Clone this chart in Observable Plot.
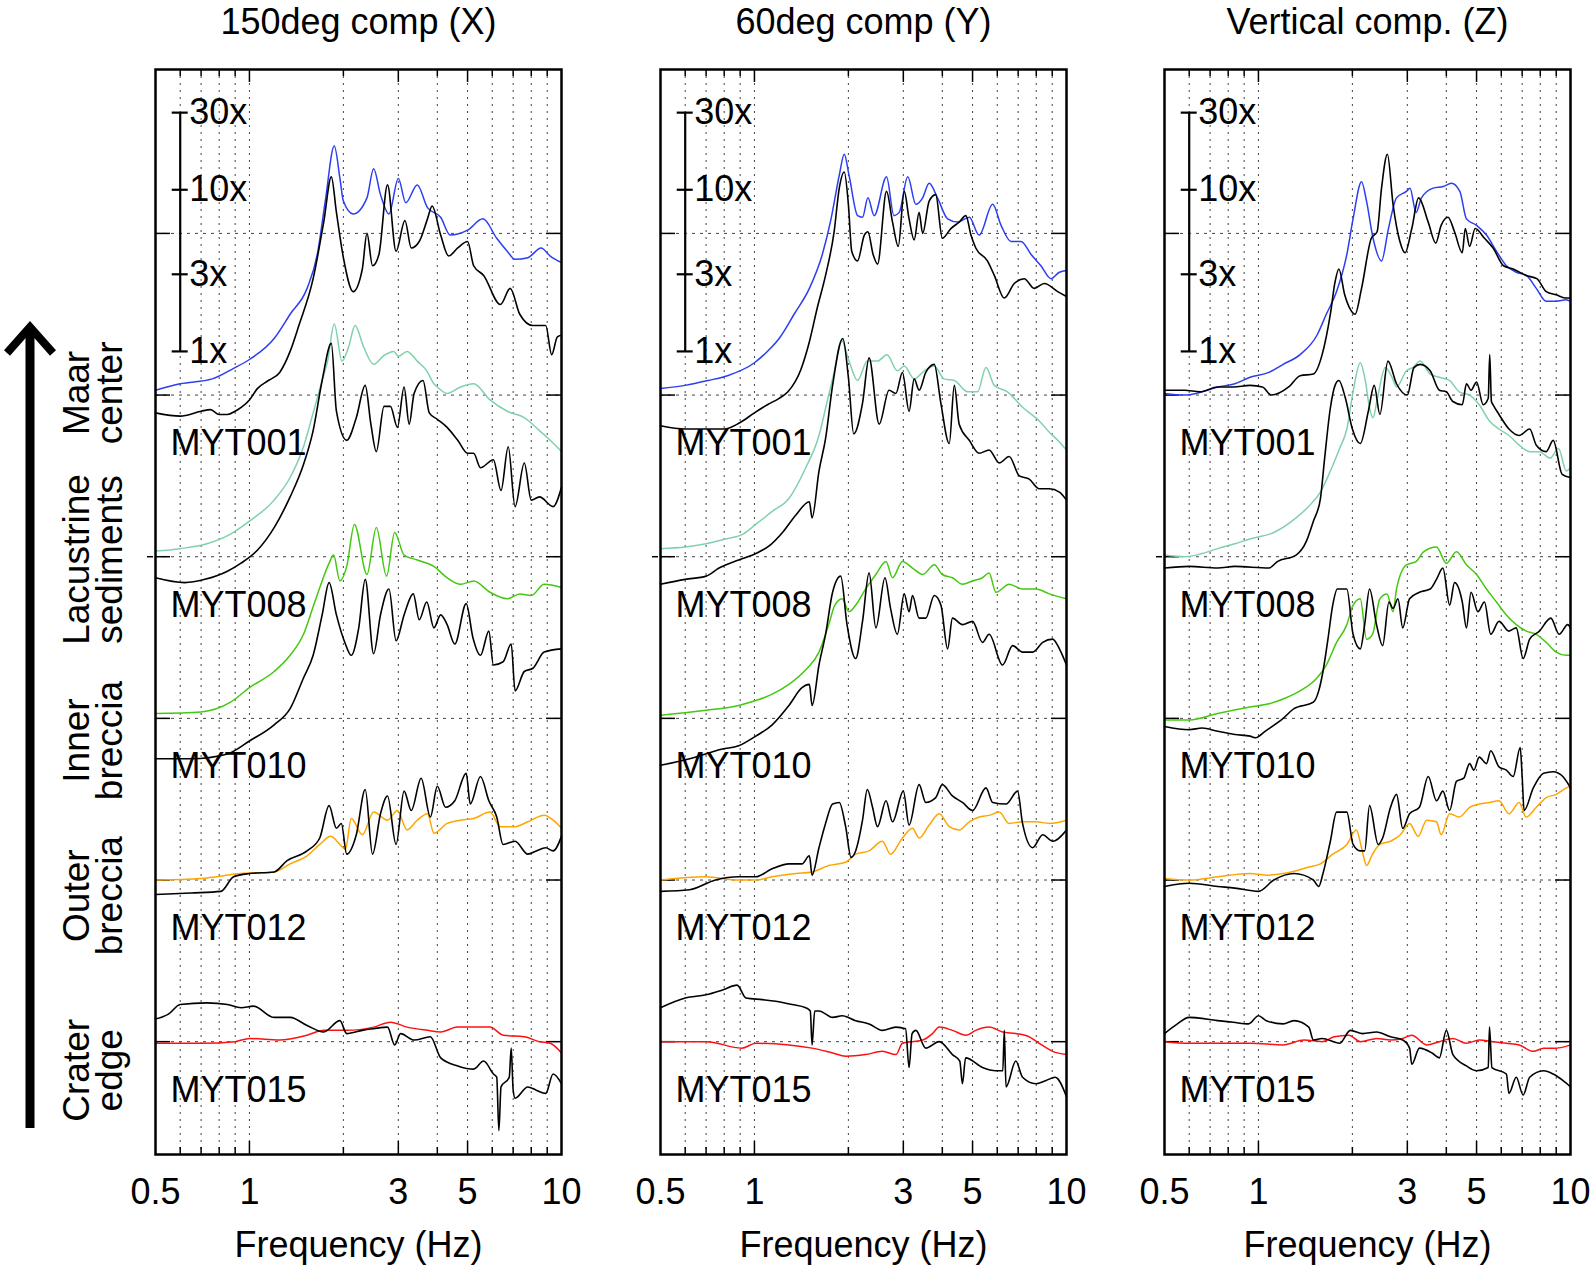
<!DOCTYPE html>
<html><head><meta charset="utf-8">
<script src="https://cdn.jsdelivr.net/npm/d3@7"></script>
<script src="https://cdn.jsdelivr.net/npm/@observablehq/plot@0.6"></script>
<style>
html,body{margin:0;padding:0;background:#fff;}
#root{position:relative;width:1594px;height:1268px;overflow:hidden;background:#fff;font-family:"Liberation Sans",Arial,Helvetica,sans-serif;}
.panel{position:absolute;top:0;}
svg{overflow:visible;}
</style></head><body><div id="root"></div>
<script>
// ---------------- data ----------------
const panelTitles = ["150deg comp (X)", "60deg comp (Y)", "Vertical comp. (Z)"];
const stations = ["MYT001", "MYT008", "MYT010", "MYT012", "MYT015"];
const stationOffsets = [4, 3, 2, 1, 0];           // decades of vertical shift
const stationColors = ["#2b3ff0", "#80d1ab", "#44c810", "#ffa500", "#ff1010"];
const zoneLabels = [["Maar", "center"], ["Lacustrine", "sediments"], ["Inner", "breccia"], ["Outer", "breccia"], ["Crater", "edge"]];
const freqTickLabels = [0.5, 1, 3, 5, 10];
const majorFreqs = [1, 3, 5];
const minorFreqs = [0.6, 0.7, 0.8, 0.9, 2, 4, 6, 7, 8, 9];
const gridLevels = [0, 1, 2, 3, 4, 5];
const scaleFactors = [1, 3, 10, 30];

// values: [frequency Hz, log10 amplitude ratio relative to station baseline]
const X_MYT001_col = [[0.5,0.03],[0.6,0.07],[0.76,0.10],[0.89,0.165],[1.0,0.22],[1.2,0.35],[1.35,0.5],[1.53,0.66],[1.65,0.87],[1.75,1.2],[1.87,1.54],[1.95,1.34],[2.0,1.2],[2.15,1.12],[2.38,1.22],[2.5,1.40],[2.63,1.24],[2.8,1.12],[3.0,1.34],[3.17,1.19],[3.45,1.30],[3.72,1.16],[4.1,1.10],[4.4,0.99],[5.0,1.02],[5.6,1.09],[6.2,0.97],[6.7,0.89],[7.1,0.84],[7.8,0.85],[8.6,0.91],[9.2,0.86],[10,0.82]];
const X_MYT001_blk = [[0.5,-0.11],[0.6,-0.13],[0.7,-0.10],[0.75,-0.09],[0.8,-0.12],[0.85,-0.12],[0.9,-0.10],[0.95,-0.07],[1.0,-0.03],[1.06,0.04],[1.15,0.09],[1.25,0.14],[1.35,0.27],[1.44,0.43],[1.6,0.72],[1.73,1.07],[1.83,1.35],[1.9,1.13],[2.0,0.85],[2.15,0.64],[2.3,0.78],[2.38,1.0],[2.48,0.80],[2.6,0.87],[2.77,1.30],[2.95,0.89],[3.15,1.08],[3.3,0.91],[3.5,0.95],[3.72,1.09],[3.85,1.17],[4.1,0.99],[4.35,0.86],[4.65,0.91],[5.0,0.95],[5.23,0.80],[5.63,0.74],[6.37,0.56],[6.85,0.66],[7.35,0.50],[8.1,0.43],[8.9,0.43],[9.3,0.25],[9.7,0.36],[10,0.37]];
const X_MYT008_col = [[0.5,0.035],[0.6,0.05],[0.73,0.08],[0.87,0.14],[1.0,0.22],[1.2,0.35],[1.35,0.49],[1.49,0.68],[1.6,0.89],[1.71,1.09],[1.78,1.21],[1.87,1.44],[1.98,1.21],[2.08,1.30],[2.18,1.43],[2.32,1.30],[2.5,1.19],[2.7,1.245],[2.9,1.27],[3.0,1.24],[3.2,1.27],[3.45,1.21],[3.7,1.15],[3.9,1.07],[4.0,1.05],[4.3,1.01],[4.75,1.05],[5.23,1.07],[5.9,0.97],[6.7,0.90],[7.6,0.86],[8.5,0.78],[9.2,0.72],[10,0.65]];
const X_MYT008_blk = [[0.5,-0.13],[0.62,-0.16],[0.72,-0.14],[0.85,-0.09],[0.94,-0.04],[1.06,0.04],[1.2,0.18],[1.35,0.37],[1.49,0.57],[1.6,0.78],[1.71,1.09],[1.83,1.32],[1.9,0.90],[2.05,0.72],[2.2,0.86],[2.35,1.06],[2.45,0.82],[2.55,0.65],[2.7,0.93],[2.83,0.93],[2.98,0.80],[3.13,1.05],[3.25,0.82],[3.37,1.01],[3.6,1.09],[3.77,0.89],[4.0,0.85],[4.3,0.80],[4.65,0.72],[5.0,0.64],[5.23,0.64],[5.5,0.55],[6.05,0.60],[6.4,0.41],[6.75,0.68],[7.1,0.31],[7.6,0.58],[8.0,0.35],[8.5,0.37],[9.4,0.31],[10,0.43]];
const X_MYT010_col = [[0.5,0.03],[0.7,0.04],[0.87,0.10],[1.0,0.19],[1.2,0.29],[1.35,0.39],[1.49,0.52],[1.6,0.69],[1.71,0.85],[1.8,0.96],[1.86,1.01],[1.95,0.85],[2.05,0.94],[2.17,1.20],[2.38,0.89],[2.55,1.18],[2.75,0.88],[2.92,1.15],[3.13,1.01],[3.45,0.98],[3.9,0.94],[4.3,0.87],[4.75,0.83],[5.23,0.85],[5.9,0.78],[6.7,0.74],[7.35,0.77],[8.0,0.76],[8.8,0.83],[10,0.81]];
const X_MYT010_blk = [[0.5,-0.25],[0.65,-0.25],[0.85,-0.22],[1.0,-0.14],[1.2,-0.04],[1.35,0.06],[1.49,0.25],[1.6,0.39],[1.71,0.64],[1.8,0.84],[1.9,0.64],[2.03,0.46],[2.12,0.39],[2.24,0.56],[2.35,0.86],[2.5,0.40],[2.63,0.64],[2.8,0.80],[2.95,0.48],[3.13,0.64],[3.35,0.77],[3.5,0.61],[3.7,0.72],[3.9,0.56],[4.1,0.64],[4.3,0.58],[4.55,0.46],[4.95,0.71],[5.2,0.50],[5.5,0.39],[5.85,0.54],[6.05,0.33],[6.5,0.35],[6.9,0.46],[7.1,0.17],[7.6,0.29],[8.1,0.31],[8.8,0.41],[10,0.43]];
const X_MYT012_col = [[0.5,0.0],[0.7,0.01],[0.94,0.04],[1.2,0.05],[1.35,0.10],[1.53,0.15],[1.68,0.22],[1.82,0.27],[1.95,0.22],[2.03,0.19],[2.12,0.38],[2.3,0.28],[2.5,0.42],[2.77,0.37],[2.98,0.43],[3.2,0.31],[3.45,0.37],[3.72,0.41],[3.9,0.29],[4.3,0.35],[4.75,0.37],[5.23,0.38],[5.9,0.42],[6.37,0.33],[7.1,0.33],[7.8,0.36],[8.8,0.40],[9.4,0.37],[10,0.32]];
const X_MYT012_blk = [[0.5,-0.09],[0.65,-0.08],[0.81,-0.07],[0.89,0.02],[1.0,0.04],[1.2,0.05],[1.32,0.12],[1.53,0.18],[1.68,0.26],[1.8,0.46],[1.9,0.32],[1.97,0.35],[2.05,0.16],[2.2,0.28],[2.35,0.56],[2.48,0.16],[2.63,0.41],[2.77,0.52],[2.95,0.22],[3.13,0.55],[3.3,0.43],[3.55,0.63],[3.8,0.39],[4.0,0.58],[4.25,0.45],[4.55,0.49],[4.95,0.66],[5.1,0.47],[5.5,0.64],[5.85,0.49],[6.2,0.39],[6.5,0.22],[7.1,0.24],[7.8,0.16],[8.3,0.18],[8.9,0.20],[9.4,0.18],[10,0.27]];
const X_MYT015_col = [[0.5,-0.01],[0.7,-0.01],[0.9,0.0],[1.0,0.02],[1.25,0.01],[1.53,0.04],[1.73,0.07],[2.05,0.07],[2.5,0.09],[2.83,0.12],[3.2,0.09],[3.72,0.07],[4.1,0.06],[4.65,0.09],[5.23,0.09],[5.9,0.09],[6.5,0.04],[7.6,0.03],[8.5,0.0],[9.2,-0.01],[10,-0.07]];
const X_MYT015_blk = [[0.5,0.14],[0.55,0.17],[0.6,0.23],[0.73,0.24],[0.85,0.23],[0.94,0.21],[1.03,0.22],[1.2,0.15],[1.35,0.15],[1.53,0.10],[1.73,0.06],[1.95,0.13],[2.05,0.05],[2.3,0.07],[2.5,0.08],[2.77,0.09],[2.92,-0.02],[3.05,0.05],[3.37,0.01],[3.8,0.03],[4.1,-0.10],[4.65,-0.15],[5.23,-0.17],[5.63,-0.12],[6.05,-0.20],[6.2,-0.22],[6.3,-0.55],[6.4,-0.28],[6.8,-0.22],[6.9,-0.04],[7.0,-0.30],[7.1,-0.35],[7.8,-0.28],[8.3,-0.30],[8.9,-0.32],[9.4,-0.20],[10,-0.26]];

const Y_MYT001_col = [[0.5,0.04],[0.6,0.06],[0.71,0.09],[0.82,0.12],[1.0,0.20],[1.1,0.27],[1.2,0.35],[1.34,0.50],[1.5,0.66],[1.65,0.87],[1.76,1.09],[1.87,1.36],[1.94,1.49],[2.01,1.36],[2.14,1.11],[2.22,1.10],[2.31,1.22],[2.42,1.11],[2.65,1.35],[2.8,1.11],[2.91,1.13],[3.1,1.35],[3.29,1.18],[3.46,1.22],[3.63,1.31],[3.86,1.22],[4.16,1.09],[4.48,1.07],[4.88,1.10],[5.25,0.99],[5.8,1.18],[6.17,1.05],[6.64,0.95],[7.15,0.95],[7.7,0.87],[8.28,0.80],[8.92,0.72],[9.49,0.76],[10,0.77]];
const Y_MYT001_blk = [[0.5,-0.19],[0.6,-0.21],[0.8,-0.21],[0.9,-0.17],[1.0,-0.11],[1.1,-0.06],[1.2,-0.02],[1.28,0.02],[1.41,0.16],[1.5,0.33],[1.59,0.54],[1.69,0.74],[1.8,1.01],[1.87,1.28],[1.94,1.38],[2.0,1.18],[2.05,0.89],[2.14,0.83],[2.25,0.99],[2.31,1.01],[2.4,0.87],[2.48,0.81],[2.65,1.26],[2.77,1.07],[2.89,0.92],[3.02,1.26],[3.13,1.09],[3.25,0.96],[3.37,1.13],[3.46,1.0],[3.63,1.20],[3.81,1.24],[4.0,0.97],[4.26,1.03],[4.53,1.07],[4.76,1.11],[4.94,0.99],[5.12,0.91],[5.58,0.83],[5.87,0.74],[6.32,0.60],[6.8,0.69],[7.32,0.72],[7.88,0.66],[8.49,0.69],[9.37,0.64],[10,0.61]];
const Y_MYT008_col = [[0.5,0.05],[0.6,0.06],[0.7,0.08],[0.81,0.11],[0.92,0.14],[1.01,0.20],[1.14,0.28],[1.29,0.36],[1.46,0.55],[1.61,0.75],[1.71,0.96],[1.8,1.14],[1.9,1.34],[2.01,1.21],[2.14,1.09],[2.3,1.21],[2.48,1.21],[2.66,1.25],[2.87,1.15],[3.02,1.18],[3.25,1.10],[3.5,1.15],[3.77,1.18],[4.05,1.10],[4.37,1.09],[4.82,1.02],[5.19,1.02],[5.52,1.17],[5.87,1.06],[6.47,1.02],[7.23,0.925],[8.18,0.84],[8.81,0.77],[9.49,0.71],[10,0.66]];
const Y_MYT008_blk = [[0.5,-0.17],[0.6,-0.14],[0.7,-0.12],[0.77,-0.07],[0.89,-0.02],[1.01,0.02],[1.12,0.07],[1.23,0.15],[1.36,0.26],[1.5,0.34],[1.53,0.24],[1.61,0.53],[1.69,0.73],[1.78,1.06],[1.92,1.35],[2.0,1.11],[2.08,0.76],[2.22,0.95],[2.33,1.23],[2.51,0.82],[2.7,1.03],[2.84,1.01],[2.98,1.14],[3.13,0.90],[3.25,1.10],[3.37,1.03],[3.54,1.14],[3.77,1.19],[3.95,0.96],[4.21,0.70],[4.37,1.06],[4.53,0.82],[4.88,0.72],[5.25,0.64],[5.65,0.66],[6.09,0.58],[6.55,0.62],[7.06,0.50],[7.6,0.48],[8.18,0.42],[8.81,0.42],[9.49,0.40],[10,0.35]];
const Y_MYT010_col = [[0.5,0.02],[0.7,0.05],[0.89,0.08],[1.01,0.11],[1.14,0.15],[1.29,0.21],[1.46,0.30],[1.61,0.41],[1.73,0.58],[1.81,0.70],[1.91,0.74],[2.01,0.66],[2.11,0.70],[2.27,0.80],[2.45,0.89],[2.64,0.97],[2.77,0.87],[2.98,0.97],[3.21,0.93],[3.46,0.89],[3.77,0.95],[4.0,0.89],[4.31,0.87],[4.64,0.83],[5.0,0.85],[5.38,0.87],[5.65,0.90],[5.94,0.78],[6.55,0.83],[7.23,0.80],[7.98,0.80],[8.81,0.77],[10,0.74]];
const Y_MYT010_blk = [[0.5,-0.29],[0.62,-0.25],[0.79,-0.19],[0.89,-0.17],[1.01,-0.11],[1.14,-0.04],[1.29,0.08],[1.42,0.19],[1.5,0.21],[1.53,0.08],[1.61,0.33],[1.69,0.52],[1.78,0.78],[1.89,0.88],[1.98,0.58],[2.11,0.37],[2.22,0.60],[2.33,0.90],[2.45,0.56],[2.62,0.87],[2.73,0.68],[2.87,0.52],[3.02,0.77],[3.13,0.66],[3.21,0.76],[3.37,0.62],[3.54,0.62],[3.77,0.76],[3.96,0.70],[4.16,0.43],[4.31,0.62],[4.64,0.58],[5.0,0.60],[5.38,0.47],[5.65,0.52],[6.24,0.33],[6.72,0.45],[7.23,0.41],[7.79,0.41],[8.39,0.47],[9.03,0.49],[9.49,0.43],[10,0.33]];
const Y_MYT012_col = [[0.5,0.0],[0.7,0.02],[0.89,0.0],[1.01,0.0],[1.14,0.02],[1.36,0.04],[1.53,0.05],[1.73,0.09],[1.96,0.11],[2.11,0.16],[2.33,0.18],[2.57,0.24],[2.73,0.16],[2.98,0.26],[3.21,0.32],[3.37,0.26],[3.63,0.34],[3.91,0.41],[4.21,0.33],[4.53,0.31],[4.88,0.36],[5.25,0.39],[5.65,0.40],[6.09,0.42],[6.55,0.35],[7.23,0.36],[7.98,0.36],[8.81,0.35],[10,0.37]];
const Y_MYT012_blk = [[0.5,-0.07],[0.62,-0.06],[0.75,0.0],[0.89,0.02],[1.01,0.02],[1.14,0.07],[1.29,0.10],[1.42,0.10],[1.5,0.15],[1.53,0.03],[1.61,0.20],[1.69,0.35],[1.78,0.47],[1.87,0.48],[1.96,0.33],[2.04,0.14],[2.11,0.18],[2.22,0.37],[2.3,0.56],[2.39,0.45],[2.48,0.33],[2.64,0.49],[2.77,0.36],[3.0,0.55],[3.13,0.34],[3.37,0.59],[3.54,0.48],[3.81,0.51],[4.0,0.59],[4.31,0.52],[4.64,0.48],[5.0,0.43],[5.52,0.57],[5.8,0.48],[6.4,0.47],[6.97,0.55],[7.23,0.35],[7.79,0.20],[8.39,0.28],[9.03,0.24],[10,0.31]];
const Y_MYT015_col = [[0.5,0.0],[0.7,0.0],[0.91,-0.04],[1.01,-0.01],[1.29,-0.02],[1.53,-0.04],[1.78,-0.07],[1.96,-0.09],[2.27,-0.08],[2.57,-0.06],[2.84,-0.08],[2.98,-0.01],[3.21,0.0],[3.46,0.01],[3.72,0.05],[3.91,0.09],[4.31,0.07],[4.76,0.04],[5.12,0.07],[5.65,0.09],[6.24,0.06],[6.88,0.05],[7.6,0.03],[8.18,-0.01],[9.03,-0.06],[10,-0.08]];
const Y_MYT015_blk = [[0.5,0.21],[0.6,0.27],[0.7,0.29],[0.79,0.32],[0.88,0.35],[0.94,0.27],[1.06,0.26],[1.17,0.25],[1.32,0.23],[1.46,0.21],[1.51,0.19],[1.53,-0.02],[1.56,0.19],[1.61,0.19],[1.78,0.15],[1.91,0.16],[2.11,0.13],[2.33,0.11],[2.57,0.07],[2.84,0.09],[3.05,0.08],[3.13,-0.16],[3.2,0.05],[3.29,0.07],[3.54,-0.04],[3.91,0.0],[4.31,-0.08],[4.55,-0.12],[4.64,-0.26],[4.75,-0.10],[5.38,-0.16],[5.94,-0.18],[6.25,-0.18],[6.32,0.07],[6.4,-0.28],[6.88,-0.12],[7.23,-0.22],[7.98,-0.26],[8.6,-0.24],[9.2,-0.22],[10,-0.34]];

const Z_MYT001_col = [[0.5,0.01],[0.58,0.0],[0.66,0.02],[0.74,0.05],[0.84,0.07],[0.94,0.11],[1.08,0.14],[1.2,0.19],[1.36,0.25],[1.54,0.37],[1.65,0.50],[1.78,0.64],[1.92,0.87],[2.01,1.09],[2.14,1.32],[2.22,1.20],[2.33,0.97],[2.48,0.83],[2.61,1.03],[2.77,1.22],[2.98,1.26],[3.06,1.28],[3.2,1.13],[3.33,1.22],[3.63,1.28],[3.91,1.29],[4.15,1.31],[4.42,1.26],[4.64,1.09],[5.0,1.05],[5.38,0.99],[5.79,0.89],[6.23,0.80],[6.7,0.76],[7.22,0.74],[7.77,0.66],[8.36,0.58],[9.0,0.58],[9.68,0.59],[10,0.58]];
const Z_MYT001_blk = [[0.5,0.03],[0.58,0.03],[0.65,0.02],[0.74,0.05],[0.83,0.05],[0.94,0.06],[1.03,0.05],[1.1,0.0],[1.25,0.05],[1.36,0.12],[1.5,0.13],[1.6,0.25],[1.7,0.50],[1.76,0.70],[1.81,0.78],[1.89,0.62],[1.97,0.53],[2.04,0.50],[2.14,0.66],[2.3,0.97],[2.4,1.01],[2.48,1.28],[2.59,1.49],[2.7,1.18],[2.84,0.95],[2.95,0.88],[3.1,1.03],[3.26,1.22],[3.5,1.07],[3.7,0.94],[3.85,1.05],[4.05,1.10],[4.25,1.01],[4.5,0.88],[4.6,1.03],[4.75,0.92],[4.95,1.03],[5.3,0.97],[5.65,0.91],[6.1,0.80],[6.55,0.78],[7.2,0.74],[7.8,0.72],[8.36,0.64],[9.0,0.62],[9.7,0.60],[10,0.60]];
const Z_MYT008_col = [[0.5,0.01],[0.58,0.0],[0.66,0.02],[0.74,0.05],[0.84,0.08],[0.94,0.11],[1.12,0.15],[1.32,0.24],[1.48,0.33],[1.58,0.40],[1.7,0.53],[1.82,0.67],[1.92,0.79],[2.01,1.02],[2.12,1.20],[2.2,1.09],[2.27,0.92],[2.33,0.86],[2.4,0.97],[2.55,1.17],[2.68,1.11],[2.77,1.05],[2.98,1.15],[3.12,1.17],[3.3,1.21],[3.55,1.13],[3.8,1.11],[4.1,1.09],[4.4,1.02],[4.75,1.0],[5.1,0.94],[5.5,0.84],[5.9,0.79],[6.35,0.75],[6.85,0.69],[7.4,0.65],[7.95,0.65],[8.6,0.61],[9.15,0.67],[9.7,0.53],[10,0.55]];
const Z_MYT008_blk = [[0.5,-0.07],[0.6,-0.06],[0.74,-0.07],[0.84,-0.06],[1.08,-0.07],[1.15,-0.03],[1.32,0.01],[1.42,0.09],[1.5,0.22],[1.58,0.36],[1.63,0.61],[1.7,0.92],[1.76,1.06],[1.81,1.09],[1.9,0.98],[2.0,0.79],[2.12,0.70],[2.25,0.90],[2.35,1.06],[2.45,0.88],[2.6,1.21],[2.77,1.07],[3.0,1.0],[3.15,1.17],[3.3,1.19],[3.55,1.15],[3.8,1.03],[4.0,1.02],[4.2,0.96],[4.5,0.94],[4.64,1.07],[4.8,1.03],[5.0,1.08],[5.25,0.94],[5.45,0.98],[5.51,1.25],[5.58,0.96],[5.65,0.94],[5.9,0.88],[6.35,0.79],[6.85,0.75],[7.4,0.79],[7.77,0.69],[8.36,0.65],[8.8,0.72],[9.4,0.51],[10,0.49]];
const Z_MYT010_col = [[0.5,-0.01],[0.6,-0.01],[0.74,0.03],[0.94,0.07],[1.08,0.09],[1.2,0.12],[1.36,0.17],[1.54,0.25],[1.65,0.33],[1.78,0.47],[1.92,0.58],[2.01,0.70],[2.12,0.74],[2.22,0.49],[2.32,0.52],[2.45,0.74],[2.58,0.77],[2.7,0.66],[2.77,0.80],[2.98,0.95],[3.2,0.97],[3.38,1.03],[3.72,1.06],[4.0,0.96],[4.31,1.03],[4.64,0.95],[5.0,0.89],[5.38,0.80],[5.79,0.72],[6.23,0.64],[6.7,0.58],[7.22,0.54],[7.77,0.52],[8.36,0.47],[9.0,0.41],[9.68,0.39],[10,0.39]];
const Z_MYT010_blk = [[0.5,-0.05],[0.6,-0.07],[0.66,-0.06],[0.74,-0.08],[0.84,-0.10],[0.94,-0.11],[0.98,-0.12],[1.05,-0.08],[1.2,0.0],[1.3,0.06],[1.5,0.10],[1.56,0.17],[1.61,0.29],[1.67,0.49],[1.73,0.70],[1.79,0.80],[1.92,0.80],[2.01,0.52],[2.12,0.43],[2.19,0.58],[2.27,0.80],[2.39,0.58],[2.5,0.45],[2.62,0.72],[2.7,0.68],[2.8,0.74],[2.9,0.56],[3.05,0.74],[3.28,0.78],[3.55,0.80],[3.72,0.86],[3.9,0.93],[4.1,0.70],[4.25,0.84],[4.5,0.72],[4.64,0.56],[4.8,0.78],[5.05,0.66],[5.3,0.72],[5.55,0.52],[5.9,0.60],[6.35,0.54],[6.7,0.56],[7.05,0.37],[7.4,0.49],[7.95,0.54],[8.65,0.62],[9.2,0.52],[9.8,0.58],[10,0.56]];
const Z_MYT012_col = [[0.5,0.01],[0.6,0.0],[0.74,0.02],[0.94,0.04],[1.06,0.03],[1.2,0.04],[1.45,0.08],[1.58,0.10],[1.73,0.16],[1.92,0.22],[2.06,0.31],[2.14,0.20],[2.22,0.09],[2.32,0.16],[2.45,0.22],[2.65,0.24],[2.85,0.28],[3.05,0.35],[3.25,0.27],[3.46,0.37],[3.72,0.36],[3.85,0.28],[4.1,0.41],[4.4,0.39],[4.75,0.45],[5.1,0.47],[5.5,0.48],[5.9,0.49],[6.35,0.41],[6.85,0.48],[7.2,0.39],[7.77,0.45],[8.36,0.51],[9.0,0.53],[9.7,0.57],[10,0.58]];
const Z_MYT012_blk = [[0.5,-0.04],[0.6,-0.02],[0.74,-0.04],[0.84,-0.05],[1.0,-0.07],[1.12,0.0],[1.3,0.04],[1.5,0.0],[1.56,-0.04],[1.61,0.04],[1.7,0.24],[1.78,0.42],[1.92,0.42],[2.01,0.22],[2.12,0.18],[2.19,0.18],[2.27,0.46],[2.42,0.22],[2.5,0.26],[2.65,0.45],[2.77,0.53],[2.9,0.32],[3.05,0.41],[3.28,0.45],[3.5,0.64],[3.72,0.49],[3.9,0.55],[4.1,0.43],[4.31,0.61],[4.55,0.63],[4.75,0.72],[4.9,0.68],[5.1,0.76],[5.38,0.72],[5.55,0.80],[5.9,0.70],[6.23,0.68],[6.55,0.64],[6.9,0.82],[7.0,0.64],[7.1,0.43],[7.6,0.57],[8.2,0.66],[8.8,0.67],[9.45,0.64],[10,0.57]];
const Z_MYT015_col = [[0.5,0.0],[0.6,-0.01],[0.74,-0.01],[0.94,-0.01],[1.2,-0.02],[1.4,0.01],[1.6,0.0],[1.75,0.03],[1.95,0.04],[2.12,0.0],[2.4,0.02],[2.65,0.01],[2.9,0.02],[3.1,0.04],[3.46,-0.02],[3.8,0.0],[4.2,0.02],[4.64,-0.01],[5.1,0.01],[5.65,0.0],[6.23,-0.01],[6.85,-0.02],[7.6,-0.06],[8.2,-0.04],[9.0,-0.04],[10,-0.02]];
const Z_MYT015_blk = [[0.5,0.05],[0.55,0.11],[0.6,0.15],[0.74,0.13],[0.83,0.12],[0.93,0.11],[1.0,0.16],[1.06,0.13],[1.2,0.11],[1.3,0.13],[1.45,0.09],[1.5,0.01],[1.6,0.02],[1.82,-0.01],[1.97,0.07],[2.16,0.05],[2.39,0.06],[2.65,0.03],[2.9,0.01],[3.05,-0.04],[3.1,-0.14],[3.28,-0.04],[3.6,-0.07],[3.8,-0.10],[4.0,0.07],[4.2,-0.08],[4.64,-0.15],[5.0,-0.18],[5.45,-0.16],[5.5,0.09],[5.6,-0.16],[6.23,-0.20],[6.35,-0.32],[6.7,-0.22],[7.05,-0.33],[7.4,-0.22],[8.2,-0.18],[8.8,-0.20],[9.45,-0.24],[10,-0.28]];

// ---------------- layout ----------------
const W = 1594, H = 1268;
const frameTop = 69, frameBottom = 1154, frameWidth = 406;
const panelLefts = [155, 660, 1164];
const yDomain = [-0.698, 6.014];
const pxPerDecade = (frameBottom - frameTop) / (yDomain[1] - yDomain[0]);
const FONT = "'Liberation Sans', Arial, Helvetica, sans-serif";
const FS = 36;
const PAD = 22;
const scaleBarFreq = 0.6, scaleBarBase = 4.27;

const pxX = (px) => Math.pow(20, px / frameWidth); // multiplicative factor for px along log x
const pxY = (px) => px / pxPerDecade;

function makePanel(title, sets) {
  const marks = [];
  const [yLo, yHi] = yDomain;
  // grid
  marks.push(Plot.ruleX([...minorFreqs, ...majorFreqs], {stroke: "#444", strokeWidth: 1, strokeDasharray: "2,5"}));
  marks.push(Plot.ruleY(gridLevels, {stroke: "#444", strokeWidth: 1, strokeDasharray: "3,5"}));
  // axis ticks inside frame
  for (const [vals, len] of [[majorFreqs, 13], [minorFreqs, 7]]) {
    marks.push(Plot.ruleX(vals, {y1: yLo, y2: yLo + pxY(len), stroke: "black", strokeWidth: 1.5}));
    marks.push(Plot.ruleX(vals, {y1: yHi, y2: yHi - pxY(len), stroke: "black", strokeWidth: 1.5}));
  }
  marks.push(Plot.ruleY(gridLevels, {x1: 0.5, x2: 0.5 * pxX(15), stroke: "black", strokeWidth: 1.5}));
  marks.push(Plot.ruleY(gridLevels, {x1: 10 / pxX(15), x2: 10, stroke: "black", strokeWidth: 1.5}));
  marks.push(Plot.ruleY([3], {x1: 0.5 / pxX(8), x2: 0.5 / pxX(2), stroke: "black", strokeWidth: 1.5}));
  // curves
  sets.forEach(([col, blk], i) => {
    const off = stationOffsets[i];
    marks.push(Plot.line(col, {x: d => d[0], y: d => d[1] + off, stroke: stationColors[i], strokeWidth: 1.5, curve: "monotone-x"}));
    marks.push(Plot.line(blk, {x: d => d[0], y: d => d[1] + off, stroke: "black", strokeWidth: 1.6, curve: "monotone-x"}));
  });
  // amplitude scale bar
  marks.push(Plot.ruleX([scaleBarFreq], {y1: scaleBarBase, y2: scaleBarBase + Math.log10(30), stroke: "black", strokeWidth: 2.2}));
  marks.push(Plot.ruleY(scaleFactors, {y: d => scaleBarBase + Math.log10(d), x1: scaleBarFreq / pxX(8), x2: scaleBarFreq * pxX(8), stroke: "black", strokeWidth: 2.2}));
  marks.push(Plot.text(scaleFactors, {x: scaleBarFreq, y: d => scaleBarBase + Math.log10(d), text: d => d + "x", textAnchor: "start", lineAnchor: "middle", dx: 9, fontSize: FS, fill: "black"}));
  // station labels
  marks.push(Plot.text(stations, {x: 0.5 * pxX(15), y: (d, i) => stationOffsets[i] - 0.30, text: d => d, textAnchor: "start", lineAnchor: "middle", fontSize: FS, fill: "black"}));
  // frame
  marks.push(Plot.frame({stroke: "black", strokeWidth: 2.5}));
  // tick labels + axis label + title
  marks.push(Plot.text(freqTickLabels, {x: d => d, frameAnchor: "bottom", lineAnchor: "middle", dy: 38, text: d => String(d), fontSize: FS, fill: "black"}));
  marks.push(Plot.text(["Frequency (Hz)"], {frameAnchor: "bottom", lineAnchor: "middle", dy: 91, text: d => d, fontSize: FS, fill: "black"}));
  marks.push(Plot.text([title], {frameAnchor: "top", lineAnchor: "middle", dy: -47.5, text: d => d, fontSize: FS, fill: "black"}));

  return Plot.plot({
    width: frameWidth + 2 * PAD,
    height: H,
    marginLeft: PAD, marginRight: PAD, marginTop: frameTop, marginBottom: H - frameBottom,
    x: {type: "log", domain: [0.5, 10], axis: null},
    y: {domain: yDomain, axis: null},
    style: {fontFamily: FONT, background: "transparent", overflow: "visible"},
    marks
  });
}

const root = document.getElementById("root");
const panelSets = [
  [[X_MYT001_col, X_MYT001_blk], [X_MYT008_col, X_MYT008_blk], [X_MYT010_col, X_MYT010_blk], [X_MYT012_col, X_MYT012_blk], [X_MYT015_col, X_MYT015_blk]],
  [[Y_MYT001_col, Y_MYT001_blk], [Y_MYT008_col, Y_MYT008_blk], [Y_MYT010_col, Y_MYT010_blk], [Y_MYT012_col, Y_MYT012_blk], [Y_MYT015_col, Y_MYT015_blk]],
  [[Z_MYT001_col, Z_MYT001_blk], [Z_MYT008_col, Z_MYT008_blk], [Z_MYT010_col, Z_MYT010_blk], [Z_MYT012_col, Z_MYT012_blk], [Z_MYT015_col, Z_MYT015_blk]]
];

// left side: arrow and zone labels
const ns = "http://www.w3.org/2000/svg";
const side = document.createElementNS(ns, "svg");
side.setAttribute("width", 150); side.setAttribute("height", H);
side.setAttribute("class", "panel"); side.style.left = "0px";
const ySc = d3.scaleLinear().domain(yDomain).range([frameBottom, frameTop]);
const arrowX = 30, arrowBottom = 1128, arrowTip = 321;
const shaft = document.createElementNS(ns, "line");
shaft.setAttribute("x1", arrowX); shaft.setAttribute("x2", arrowX);
shaft.setAttribute("y1", arrowBottom); shaft.setAttribute("y2", arrowTip + 6);
shaft.setAttribute("stroke", "black"); shaft.setAttribute("stroke-width", 9);
side.appendChild(shaft);
const head = document.createElementNS(ns, "path");
head.setAttribute("d", `M${arrowX - 23},${arrowTip + 32} L${arrowX},${arrowTip + 6} L${arrowX + 23},${arrowTip + 32}`);
head.setAttribute("fill", "none"); head.setAttribute("stroke", "black");
head.setAttribute("stroke-width", 8); head.setAttribute("stroke-linejoin", "miter"); head.setAttribute("stroke-miterlimit", 10);
side.appendChild(head);
const zoneLevels = [4.01, 2.98, 1.86, 0.90, -0.18];
zoneLabels.forEach((lines, i) => {
  const cy = ySc(zoneLevels[i]);
  lines.forEach((t, j) => {
    const bx = 89 + j * 33;
    const tx = document.createElementNS(ns, "text");
    tx.setAttribute("transform", `translate(${bx},${cy}) rotate(-90)`);
    tx.setAttribute("text-anchor", "middle");
    tx.setAttribute("font-family", FONT);
    tx.setAttribute("font-size", 37);
    tx.textContent = t;
    side.appendChild(tx);
  });
});
root.appendChild(side);

panelTitles.forEach((t, k) => {
  const svg = makePanel(t, panelSets[k]);
  svg.classList.add("panel");
  svg.style.position = "absolute";
  svg.style.left = (panelLefts[k] - PAD) + "px";
  svg.style.top = "0px";
  root.appendChild(svg);
});
</script>
</body></html>
